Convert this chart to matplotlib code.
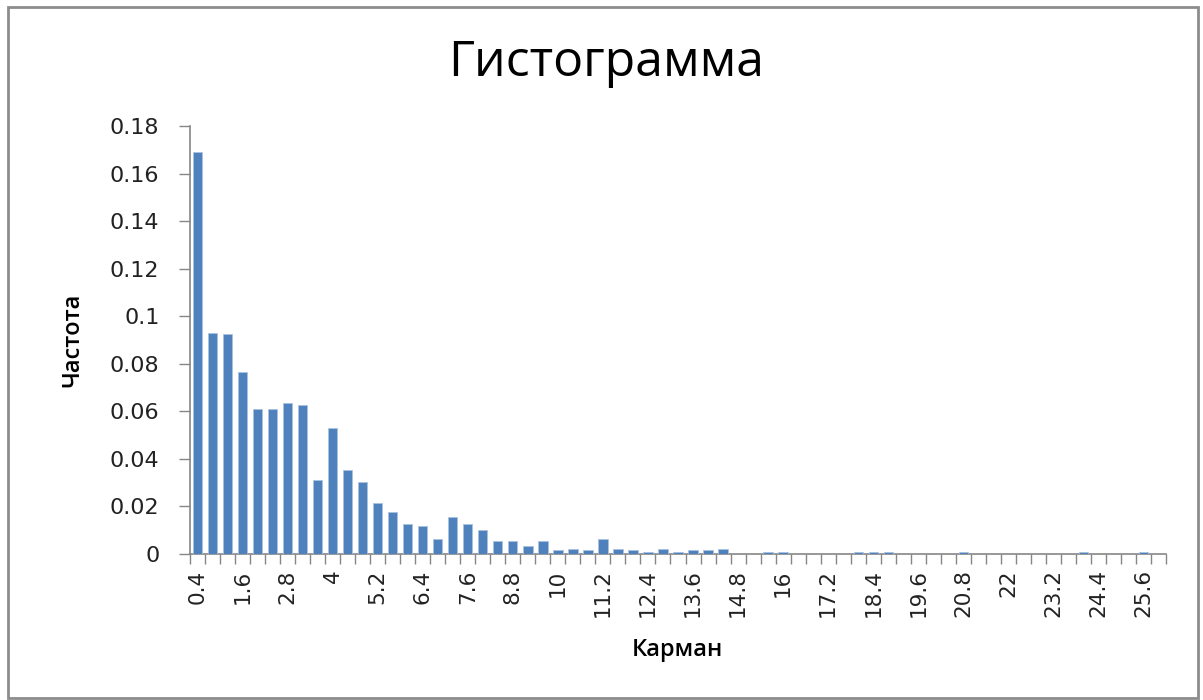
import matplotlib
matplotlib.use("Agg")
import numpy as np
from matplotlib import pyplot as plt
from matplotlib.patches import Rectangle

# histogram bins (upper edges) and relative frequencies
bins = ["0.4", "0.8", "1.2", "1.6", "2", "2.4", "2.8", "3.2", "3.6", "4",
        "4.4", "4.8", "5.2", "5.6", "6", "6.4", "6.8", "7.2", "7.6", "8",
        "8.4", "8.8", "9.2", "9.6", "10", "10.4", "10.8", "11.2", "11.6", "12",
        "12.4", "12.8", "13.2", "13.6", "14", "14.4", "14.8", "15.2", "15.6", "16",
        "16.4", "16.8", "17.2", "17.6", "18", "18.4", "18.8", "19.2", "19.6", "20",
        "20.4", "20.8", "21.2", "21.6", "22", "22.4", "22.8", "23.2", "23.6", "24",
        "24.4", "24.8", "25.2", "25.6", "26"]
freq = [0.169, 0.093, 0.0925, 0.0765, 0.061, 0.061, 0.0637, 0.0627, 0.0312, 0.0528,
        0.0352, 0.0301, 0.0213, 0.0175, 0.0127, 0.0116, 0.0063, 0.0155, 0.0126, 0.0102,
        0.0056, 0.0056, 0.0034, 0.0056, 0.0017, 0.0022, 0.0017, 0.0063, 0.0022, 0.0017,
        0.0007, 0.0022, 0.0007, 0.0017, 0.0017, 0.0022, 0.0, 0.0, 0.0007, 0.0007,
        0.0, 0.0, 0.0, 0.0, 0.0007, 0.0007, 0.0007, 0.0, 0.0, 0.0,
        0.0, 0.0007, 0.0, 0.0, 0.0, 0.0, 0.0, 0.0, 0.0, 0.0007,
        0.0, 0.0, 0.0, 0.0007, 0.0]
y_ticks = [0, 0.02, 0.04, 0.06, 0.08, 0.1, 0.12, 0.14, 0.16, 0.18]
y_labels = ["0", "0.02", "0.04", "0.06", "0.08", "0.1", "0.12", "0.14", "0.16", "0.18"]

BAR_COLOR = "#4F81BD"
AXIS_COLOR = "#868686"

fig = plt.figure(figsize=(12.03, 7.0), dpi=100)
ax = fig.add_axes([190 / 1203, 146 / 700, 976 / 1203, 428 / 700])

x = np.arange(len(bins))
# bars drawn over the axis line so the tiniest ones stay visible
ax.bar(x, freq, width=0.62, color=BAR_COLOR, edgecolor="#a9c2e0", linewidth=0.6, zorder=3)

ax.set_xlim(-0.5, len(bins) - 0.5)
ax.set_ylim(0, 0.18)

# every third bin gets a label, tick marks sit between bins
ax.set_xticks(x[::3], [bins[i] for i in x[::3]], rotation=90)
ax.set_xticks(np.arange(len(bins) + 1) - 0.5, minor=True)
ax.tick_params(axis="x", which="major", length=0, pad=11, labelsize=15.5, labelcolor="#222222")
ax.tick_params(axis="x", which="minor", length=7, width=1, color=AXIS_COLOR, direction="out")

ax.set_yticks(y_ticks, y_labels)
ax.tick_params(axis="y", which="major", length=8, width=1, color=AXIS_COLOR, pad=14,
               labelsize=16, labelcolor="#222222")

for side in ("top", "right"):
    ax.spines[side].set_visible(False)
for side in ("left", "bottom"):
    ax.spines[side].set_color(AXIS_COLOR)
    ax.spines[side].set_linewidth(1.2)

fig.text(606 / 1203, 1 - 63 / 700, "Гистограмма", ha="center", va="center",
         fontsize=36, family="Open Sans", color="black")
fig.text(72 / 1203, 1 - 340 / 700, "Частота", ha="center", va="center", rotation=90,
         fontsize=17, family="Open Sans", weight="semibold", color="black")
fig.text(677 / 1203, 1 - 650 / 700, "Карман", ha="center", va="center",
         fontsize=17, family="Open Sans", weight="semibold", color="black")

# outer chart border
fig.patches.append(Rectangle((8 / 1203, 2 / 700), 1190 / 1203, 691 / 700,
                             transform=fig.transFigure, fill=False,
                             edgecolor="#8c8c8c", linewidth=2))

fig.savefig("out.png", dpi=100)
